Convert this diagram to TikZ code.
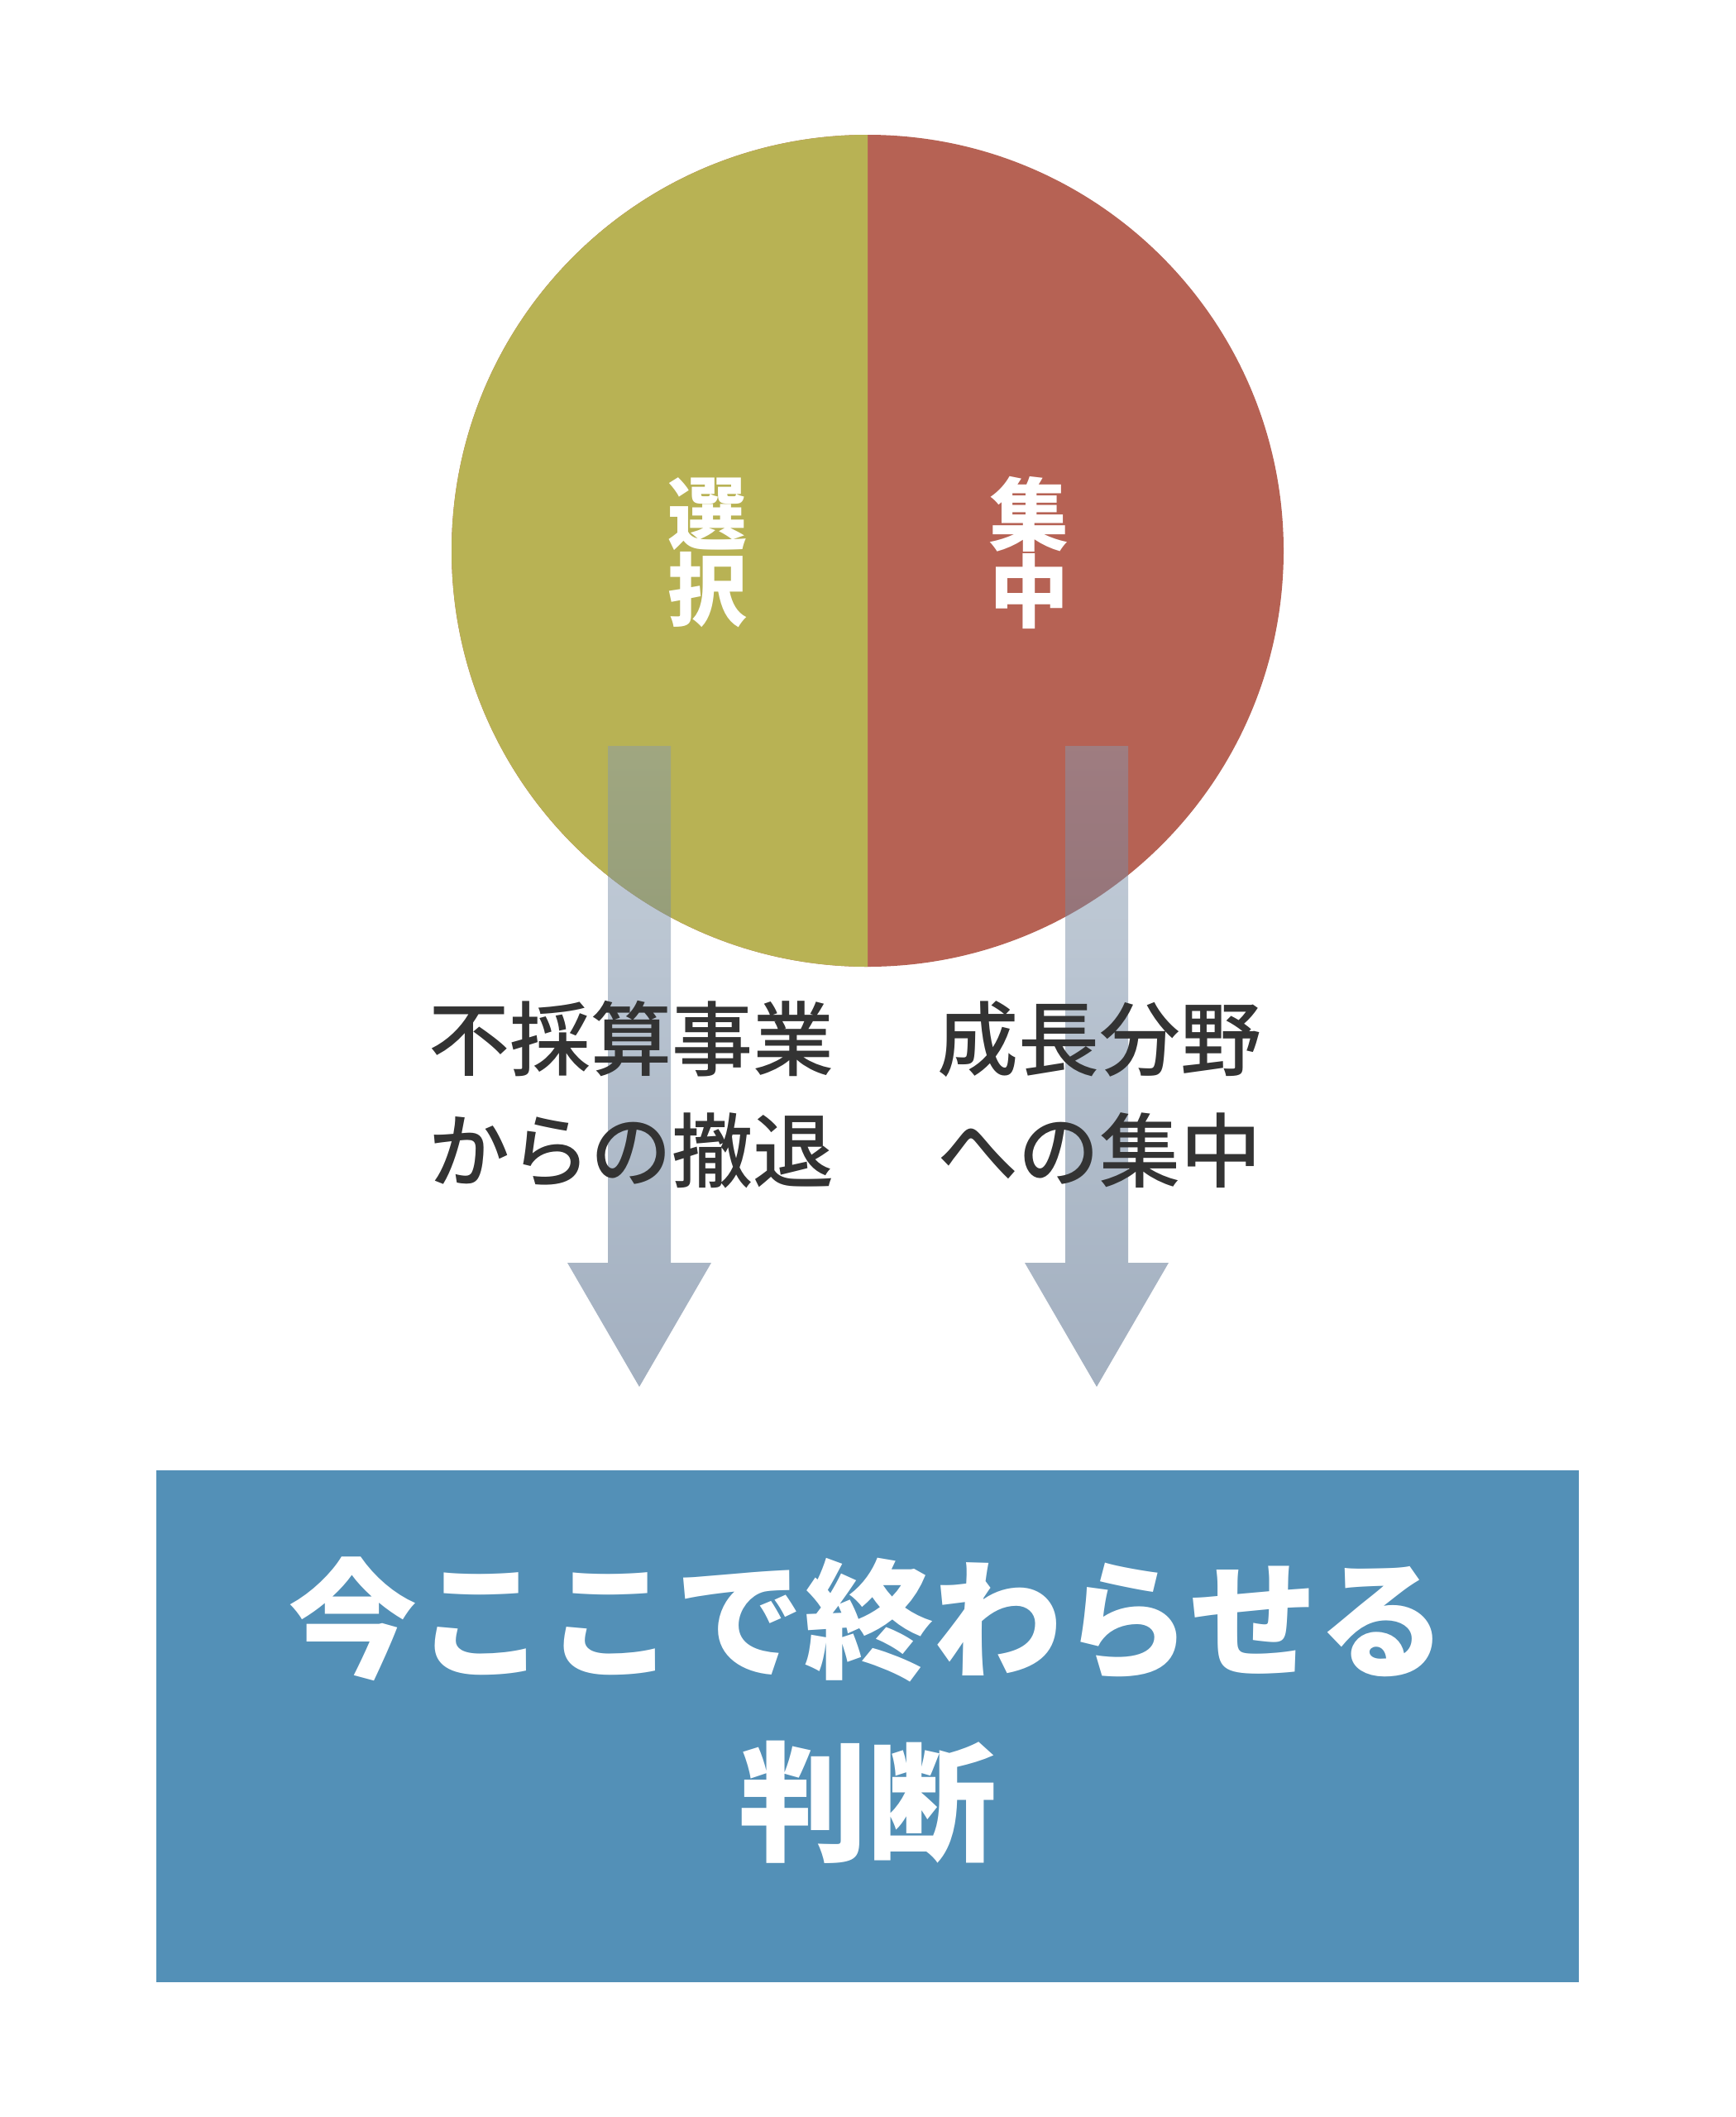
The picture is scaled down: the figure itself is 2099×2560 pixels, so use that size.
\documentclass[tikz,border=0pt]{standalone}
\usepackage{fontspec}
\newfontfamily\jp{Noto Sans CJK JP}
\newfontfamily\jpm{Noto Sans CJK JP Medium}
\usetikzlibrary{shapes.geometric}
\definecolor{selgreen}{RGB}{184,178,84}
\definecolor{conred}{RGB}{182,98,84}
\definecolor{boxblue}{RGB}{83,144,183}
\definecolor{arrowtop}{RGB}{134,155,178}
\definecolor{arrowbot}{RGB}{63,90,124}
\definecolor{darktext}{RGB}{51,51,51}
\tikzset{
  circtext/.style={text=white, align=center, inner sep=0pt,
    font=\jp\bfseries\fontsize{48pt}{45pt}\selectfont},
  midtext/.style={text=darktext, align=center, inner sep=0pt,
    font=\jpm\fontsize{49pt}{67.5pt}\selectfont},
  boxtext/.style={text=white, align=center, inner sep=0pt,
    font=\jp\bfseries\fontsize{78pt}{110.5pt}\selectfont},
  bigarrow/.style={top color=arrowtop, bottom color=arrowbot, opacity=0.48},
}
\begin{document}
\begin{tikzpicture}[x=0.5pt,y=-0.5pt]
\useasboundingbox (0,0) rectangle (2099,2560);
\fill[white] (0,0) rectangle (2099,2560);
% circle
\coordinate (cc) at (1049,666);
\fill[conred] (cc) circle (503);
\begin{scope}
\clip (0,0) rectangle (1049,2560);
\fill[selgreen] (cc) circle (503);
\end{scope}
\node[circtext] (sel) at (855,668) {選\\択};
\node[circtext] (con) at (1244,668) {集\\中};
% arrows
\shade[bigarrow] (735,902) -- (811,902) -- (811,1527) -- (860,1527) -- (773,1677) -- (686,1527) -- (735,1527) -- cycle;
\shade[bigarrow] (1288,902) -- (1364,902) -- (1364,1527) -- (1413,1527) -- (1326,1677) -- (1239,1527) -- (1288,1527) -- cycle;
% middle texts
\node[midtext] (left) at (763,1324) {不採算事業\\からの撤退};
\node[midtext] (right) at (1329,1324) {成長分野\\への集中};
% box
\fill[boxblue] (189,1778) rectangle (1909,2397);
\node[boxtext] (judge) at (1049,2068) {今ここで終わらせる\\判断};
\end{tikzpicture}
\end{document}
